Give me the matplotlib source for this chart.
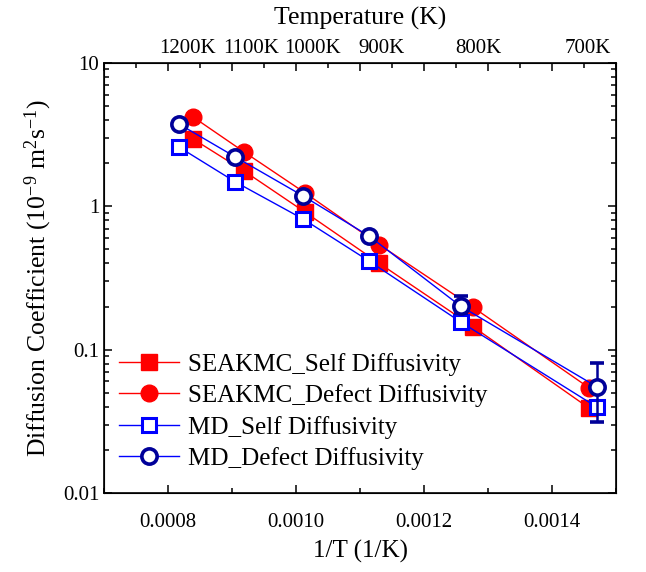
import matplotlib
matplotlib.use('Agg')
import matplotlib.pyplot as plt
import matplotlib.ticker as mticker
import matplotlib.transforms as mtrans
from matplotlib.lines import Line2D
import numpy as np

matplotlib.rcParams.update({
    'font.family': 'serif',
    'font.serif': ['Liberation Serif', 'DejaVu Serif'],
    'mathtext.fontset': 'custom',
    'mathtext.rm': 'Liberation Serif',
    'mathtext.it': 'Liberation Serif:italic',
    'mathtext.bf': 'Liberation Serif:bold',
})

# %% data
x_seakmc = [0.000839, 0.000919, 0.001014, 0.001130, 0.001276, 0.001458]
seakmc_self = [2.95, 1.76, 0.91, 0.40, 0.145, 0.039]
seakmc_defect = [4.2, 2.39, 1.24, 0.54, 0.198, 0.054]

x_md = [0.000817, 0.000905, 0.001011, 0.001114, 0.001257, 0.001470]
md_self = [2.59, 1.48, 0.815, 0.415, 0.156, 0.0397]
md_defect = [3.75, 2.21, 1.18, 0.62, 0.201, 0.055]
md_defect_lo = [3.62, 2.14, 1.15, 0.61, 0.180, 0.0313]
md_defect_hi = [3.88, 2.28, 1.21, 0.63, 0.237, 0.0806]

temp_labels = ['1200K', '1100K', '1000K', '900K', '800K', '700K']
temp_label_x = [0.000831, 0.000930, 0.001025, 0.001134, 0.001284, 0.001456]

# %%
fig, ax = plt.subplots(figsize=(6.46, 5.72), dpi=100)
fig.subplots_adjust(left=0.161, right=0.954, top=0.890, bottom=0.138)

red = '#ff0000'
blue = '#0000ff'
navy = '#000099'

style_ss = dict(color=red, lw=1.0, marker='s', ms=11, mfc=red, mec=red)
style_sd = dict(color=red, lw=1.0, marker='o', ms=12, mfc=red, mec=red)
style_ms = dict(color=blue, lw=1.0, marker='s', ms=9.5, mfc='white',
                mec=blue, mew=2.2)
style_md = dict(color=blue, lw=1.0, marker='o', ms=11, mfc='white',
                mec=navy, mew=2.6)

ax.plot(x_seakmc, seakmc_self, **style_ss)
ax.plot(x_seakmc, seakmc_defect, **style_sd)
ax.plot(x_md, md_self, **style_ms)
yerr = [np.array(md_defect) - np.array(md_defect_lo),
        np.array(md_defect_hi) - np.array(md_defect)]
ax.errorbar(x_md, md_defect, yerr=yerr, ecolor=navy,
            elinewidth=1.8, capsize=5, capthick=1.8, **style_md)

ax.set_yscale('log')
ax.set_ylim(0.01, 10)
ax.set_xlim(0.0007, 0.0015)
ax.yaxis.set_major_formatter(mticker.FuncFormatter(lambda v, p: f'{v:g}'))
ax.xaxis.set_major_locator(mticker.MultipleLocator(0.0002))
ax.xaxis.set_minor_locator(mticker.MultipleLocator(0.0001))
ax.xaxis.set_major_formatter(mticker.FormatStrFormatter('%.4f'))

ax.tick_params(which='both', direction='in', right=True, labelsize=15, width=1.1)
ax.tick_params(which='major', length=6)
ax.tick_params(which='minor', length=3.5)
ax.tick_params(axis='x', which='both', top=False, pad=14)
for s in ax.spines.values():
    s.set_linewidth(1.2)

ax.set_xlabel('1/T (1/K)', fontsize=18, labelpad=6)
ax.set_ylabel('Diffusion Coefficient (10$^{-9}$ m$^{2}$s$^{-1}$)', fontsize=18.5,
              labelpad=6)

# top temperature axis
tax = ax.twiny()
tax.set_xlim(ax.get_xlim())
tax.xaxis.set_major_locator(mticker.MultipleLocator(0.0001))
tax.xaxis.set_minor_locator(mticker.MultipleLocator(0.00005))
tax.xaxis.set_major_formatter(mticker.NullFormatter())
tax.tick_params(which='both', direction='in', width=1.1)
tax.tick_params(which='major', length=6)
tax.tick_params(which='minor', length=3.5)
tax.set_xlabel('Temperature (K)', fontsize=18.5, labelpad=24)
trans = mtrans.blended_transform_factory(ax.transData, ax.transAxes)
for lab, xv in zip(temp_labels, temp_label_x):
    ax.text(xv, 1.012, lab, transform=trans, ha='center', va='bottom',
            fontsize=15)

handles = [Line2D([], [], **style_ss), Line2D([], [], **style_sd),
           Line2D([], [], **style_ms), Line2D([], [], **style_md)]
labels = ['SEAKMC_Self Diffusivity', 'SEAKMC_Defect Diffusivity',
          'MD_Self Diffusivity', 'MD_Defect Diffusivity']
ax.legend(handles, labels, loc='lower left', bbox_to_anchor=(0.01, 0.03),
          borderaxespad=0, frameon=False, fontsize=18, handlelength=2.4,
          handletextpad=0.35, labelspacing=0.34, numpoints=1)

plt.savefig('out.png', dpi=100)
